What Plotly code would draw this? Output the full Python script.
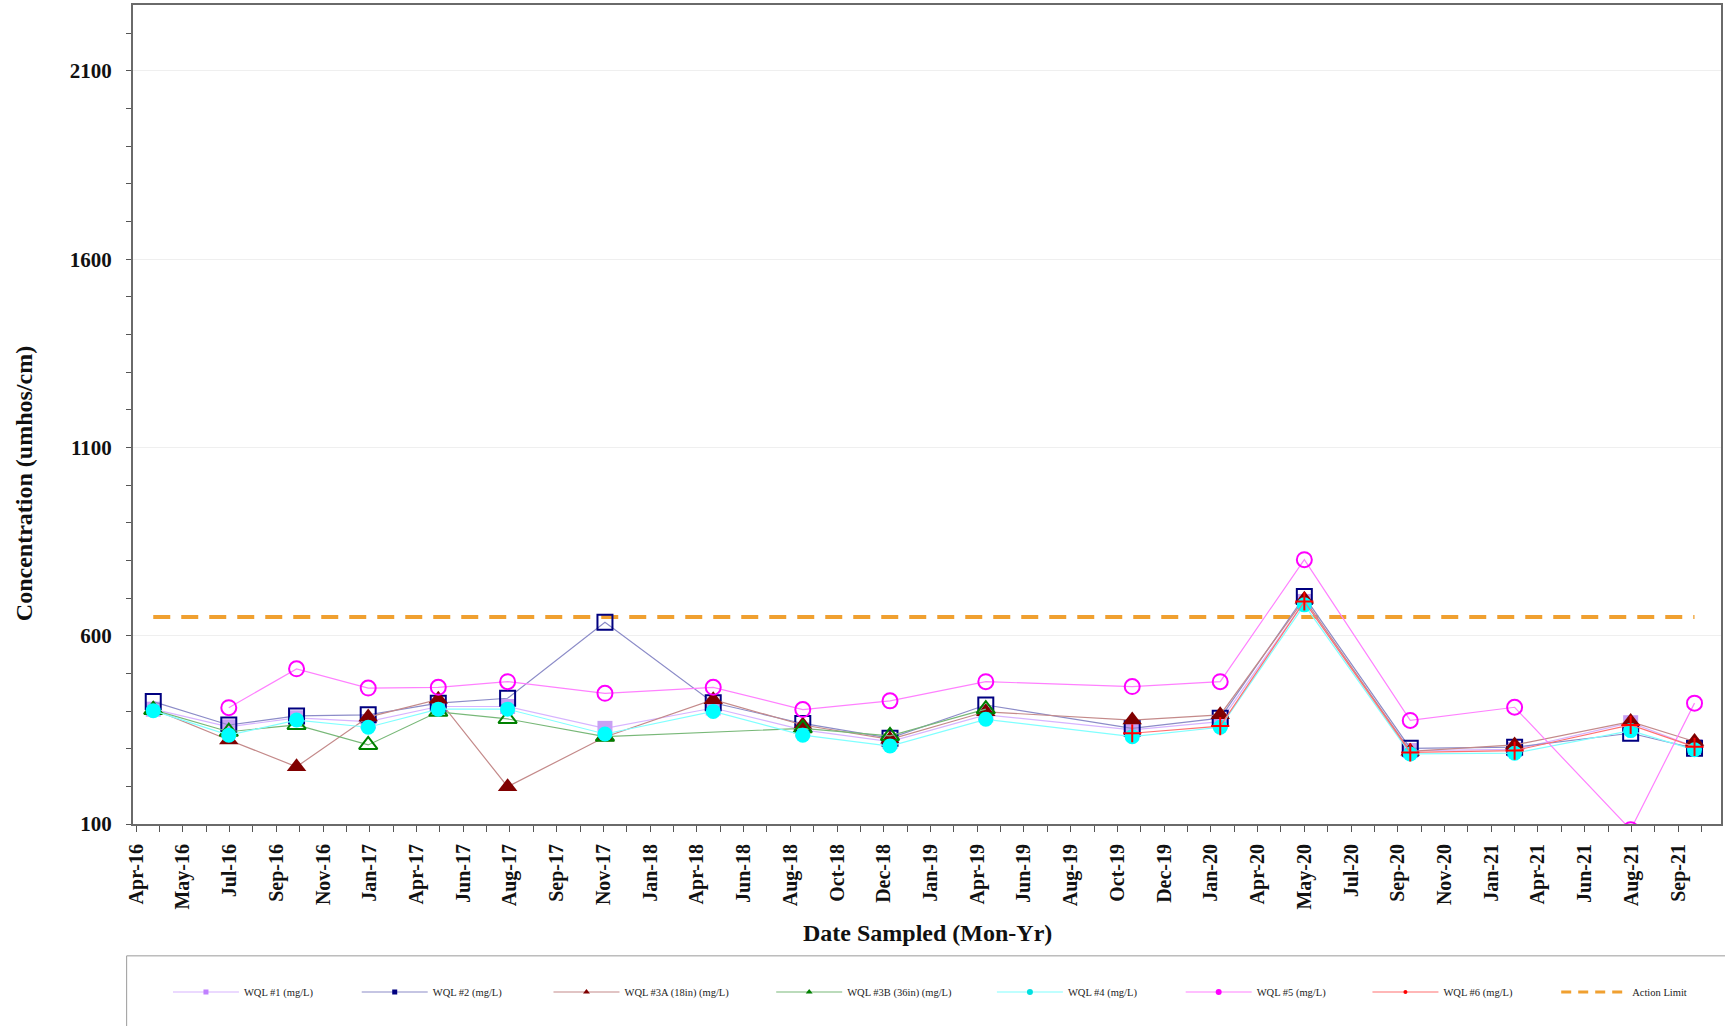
import pandas as pd
import plotly.graph_objects as go

# ---- data -------------------------------------------------------------
SAMPLE_DATES = [
    "2016-04-23", "2016-07-29", "2016-10-24", "2017-01-24", "2017-04-24",
    "2017-07-22", "2017-11-24", "2018-04-12", "2018-08-05", "2018-11-25",
    "2019-03-28", "2019-10-02", "2020-01-23", "2020-05-10", "2020-09-23",
    "2021-02-04", "2021-07-03", "2021-09-23",
]

WQL_1 = [405, 358, 382, 372, 412, 412, 354, 408, 350, 319, 390, 350, 372, 691, 295, 298, 369, 305]
WQL_2 = [425, 363, 387, 390, 421, 434, 636, 422, 367, 328, 416, 354, 381, 704, 301, 304, 341, 301]
WQL_3A = [405, 323, 252, 384, 431, 199, 331, 430, 363, 325, 398, 376, 390, 697, 293, 310, 372, 319]
WQL_3B = [403, 345, 363, 310, 398, 379, 332, None, 354, 334, 405, None, None, None, None, None, None, None]
WQL_4 = [401, 336, 376, 357, 405, 405, 339, 399, 336, 307, 378, 332, 357, 682, 286, 288, 348, 297]
WQL_5 = [None, 409, 512, 461, 463, 478, 447, 463, 404, 427, 478, 465, 478, 802, 375, 410, 85, 421]
WQL_6 = [None, None, None, None, None, None, None, None, None, None, None, 341, 360, 691, 290, 295, 363, 305]

ACTION_LIMIT = 650

TICK_LABELS = [
    "Apr-16", "May-16", "Jul-16", "Sep-16", "Nov-16", "Jan-17", "Apr-17", "Jun-17",
    "Aug-17", "Sep-17", "Nov-17", "Jan-18", "Apr-18", "Jun-18", "Aug-18", "Oct-18",
    "Dec-18", "Jan-19", "Apr-19", "Jun-19", "Aug-19", "Oct-19", "Dec-19", "Jan-20",
    "Apr-20", "May-20", "Jul-20", "Sep-20", "Nov-20", "Jan-21", "Apr-21", "Jun-21",
    "Aug-21", "Sep-21",
]

# ---- axis scaffolding -------------------------------------------------
AXIS_START = pd.Timestamp("2016-04-01")
STEP = pd.Timedelta(days=60)
tick_vals = [AXIS_START + STEP * i for i in range(len(TICK_LABELS))]
minor_vals = [AXIS_START + STEP * i + STEP / 2 for i in range(len(TICK_LABELS))]
x_range = [AXIS_START - pd.Timedelta(days=4), AXIS_START + pd.Timedelta(days=2035)]

SERIF = "Liberation Serif, Times New Roman, serif"

# plot area in pixels (used for placing the legend row and titles)
PLOT_L, PLOT_R, PLOT_T, PLOT_B = 133, 1723, 5, 824
PLOT_W, PLOT_H = PLOT_R - PLOT_L, PLOT_B - PLOT_T

series = [
    # name, values, line colour, marker dict
    ("WQL #1 (mg/L)", WQL_1, "#d7b4ff",
     dict(symbol="square", size=15, color="#c8a0f4", line=dict(width=0))),
    ("WQL #2 (mg/L)", WQL_2, "#8c8cc8",
     dict(symbol="square-open", size=15, color="#000080", line=dict(width=2, color="#000080"))),
    ("WQL #3A (18in) (mg/L)", WQL_3A, "#c48a8a",
     dict(symbol="triangle-up", size=17, color="#800000", line=dict(width=0))),
    ("WQL #3B (36in) (mg/L)", WQL_3B, "#78b878",
     dict(symbol="triangle-up-open", size=16, color="#008000", line=dict(width=2, color="#008000"))),
    ("WQL #4 (mg/L)", WQL_4, "#80ffff",
     dict(symbol="circle", size=15, color="#00ffff", line=dict(width=0))),
    ("WQL #5 (mg/L)", WQL_5, "#ff80ff",
     dict(symbol="circle-open", size=15, color="#ff00ff", line=dict(width=2, color="#ff00ff"))),
    ("WQL #6 (mg/L)", WQL_6, "#ff7070",
     dict(symbol="cross-thin-open", size=13, color="#ff0000", line=dict(width=2, color="#ff0000"))),
]

legend_markers = {
    "WQL #1 (mg/L)": dict(symbol="square", size=5, color="#c080ff"),
    "WQL #2 (mg/L)": dict(symbol="square", size=5, color="#000080"),
    "WQL #3A (18in) (mg/L)": dict(symbol="triangle-up", size=6, color="#800000"),
    "WQL #3B (36in) (mg/L)": dict(symbol="triangle-up", size=6, color="#008000"),
    "WQL #4 (mg/L)": dict(symbol="circle", size=6, color="#00e0e0"),
    "WQL #5 (mg/L)": dict(symbol="circle", size=6, color="#ff00ff"),
    "WQL #6 (mg/L)": dict(symbol="circle", size=4, color="#ff0000"),
}

# left edge (px) of each legend entry along the bottom row
LEGEND_LEFT_PX = [168, 357, 549, 772, 993, 1182, 1369, 1558]

fig = go.Figure()

# action limit, drawn beneath the sample series
fig.add_trace(go.Scatter(
    x=[SAMPLE_DATES[0], SAMPLE_DATES[-1]], y=[ACTION_LIMIT, ACTION_LIMIT],
    mode="lines", line=dict(color="#f0a030", width=4, dash="17px,11px"),
    showlegend=False, hoverinfo="skip",
))

for name, vals, lcol, mk in series:
    fig.add_trace(go.Scatter(
        x=SAMPLE_DATES, y=vals, mode="lines+markers", name=name,
        line=dict(color=lcol, width=1.2), marker=mk,
        connectgaps=True, showlegend=False,
    ))


def legend_ref(i):
    return "legend" if i == 0 else f"legend{i + 1}"


# compact legend entries (small markers on the legend lines), one legend each
for i, (name, _, lcol, _) in enumerate(series):
    fig.add_trace(go.Scatter(
        x=[None], y=[None], mode="lines+markers", name=name,
        line=dict(color=lcol, width=1.2), marker=legend_markers[name],
        legend=legend_ref(i),
    ))
fig.add_trace(go.Scatter(
    x=[None], y=[None], mode="lines", name="Action Limit",
    line=dict(color="#f0a030", width=3, dash="10px,7px"),
    legend=legend_ref(len(series)),
))

legend_layout = {}
for i, left in enumerate(LEGEND_LEFT_PX):
    legend_layout[legend_ref(i)] = dict(
        orientation="h", x=(left - PLOT_L) / PLOT_W, xanchor="left",
        y=-(992 - PLOT_B) / PLOT_H, yanchor="middle", itemwidth=66,
        font=dict(family=SERIF, size=10.5, color="#222222"),
        bgcolor="rgba(0,0,0,0)",
    )

fig.update_layout(
    width=1725, height=1026,
    margin=dict(l=PLOT_L, r=1725 - PLOT_R, t=PLOT_T, b=1026 - PLOT_B),
    paper_bgcolor="white", plot_bgcolor="white",
    font=dict(family=SERIF, color="#111111"),
    shapes=[dict(
        type="rect", xref="paper", yref="paper",
        x0=-0.004, x1=1.02, y0=-0.161, y1=-0.4,
        line=dict(color="#9a9a9a", width=1), fillcolor="rgba(0,0,0,0)", layer="below",
    )],
    annotations=[
        dict(text="<b>Date Sampled (Mon-Yr)</b>", xref="paper", yref="paper",
             x=0.5, y=-(933 - PLOT_B) / PLOT_H, xanchor="center", yanchor="middle",
             showarrow=False, font=dict(family=SERIF, size=24, color="#111111")),
        dict(text="<b>Concentration (umhos/cm)</b>", xref="paper", yref="paper",
             x=-(PLOT_L - 24) / PLOT_W, y=(PLOT_B - 484) / PLOT_H,
             xanchor="center", yanchor="middle", textangle=-90, showarrow=False,
             font=dict(family=SERIF, size=24, color="#111111")),
    ],
    **legend_layout,
)

fig.update_xaxes(
    type="date", range=x_range,
    tickmode="array", tickvals=tick_vals, ticktext=TICK_LABELS,
    tickangle=-90, tickfont=dict(family=SERIF, size=20, color="#111111", weight="bold"),
    ticks="outside", ticklen=6, tickwidth=1, tickcolor="#555555",
    ticklabelstandoff=4,
    minor=dict(tickmode="array", tickvals=minor_vals, ticks="outside",
               ticklen=6, tickwidth=1, tickcolor="#555555"),
    showgrid=False, zeroline=False,
    showline=True, linecolor="#6a6a6a", linewidth=2, mirror=True,
)

fig.update_yaxes(
    range=[100, 2275], tick0=100, dtick=500,
    tickfont=dict(family=SERIF, size=21, color="#111111", weight="bold"),
    ticks="outside", ticklen=5, tickwidth=1, tickcolor="#555555",
    ticklabelstandoff=10,
    minor=dict(tick0=100, dtick=100, ticks="outside", ticklen=5,
               tickwidth=1, tickcolor="#555555"),
    showgrid=True, gridcolor="#efefef", gridwidth=1, zeroline=False,
    showline=True, linecolor="#6a6a6a", linewidth=2, mirror=True,
)

fig.write_html("out.html")
